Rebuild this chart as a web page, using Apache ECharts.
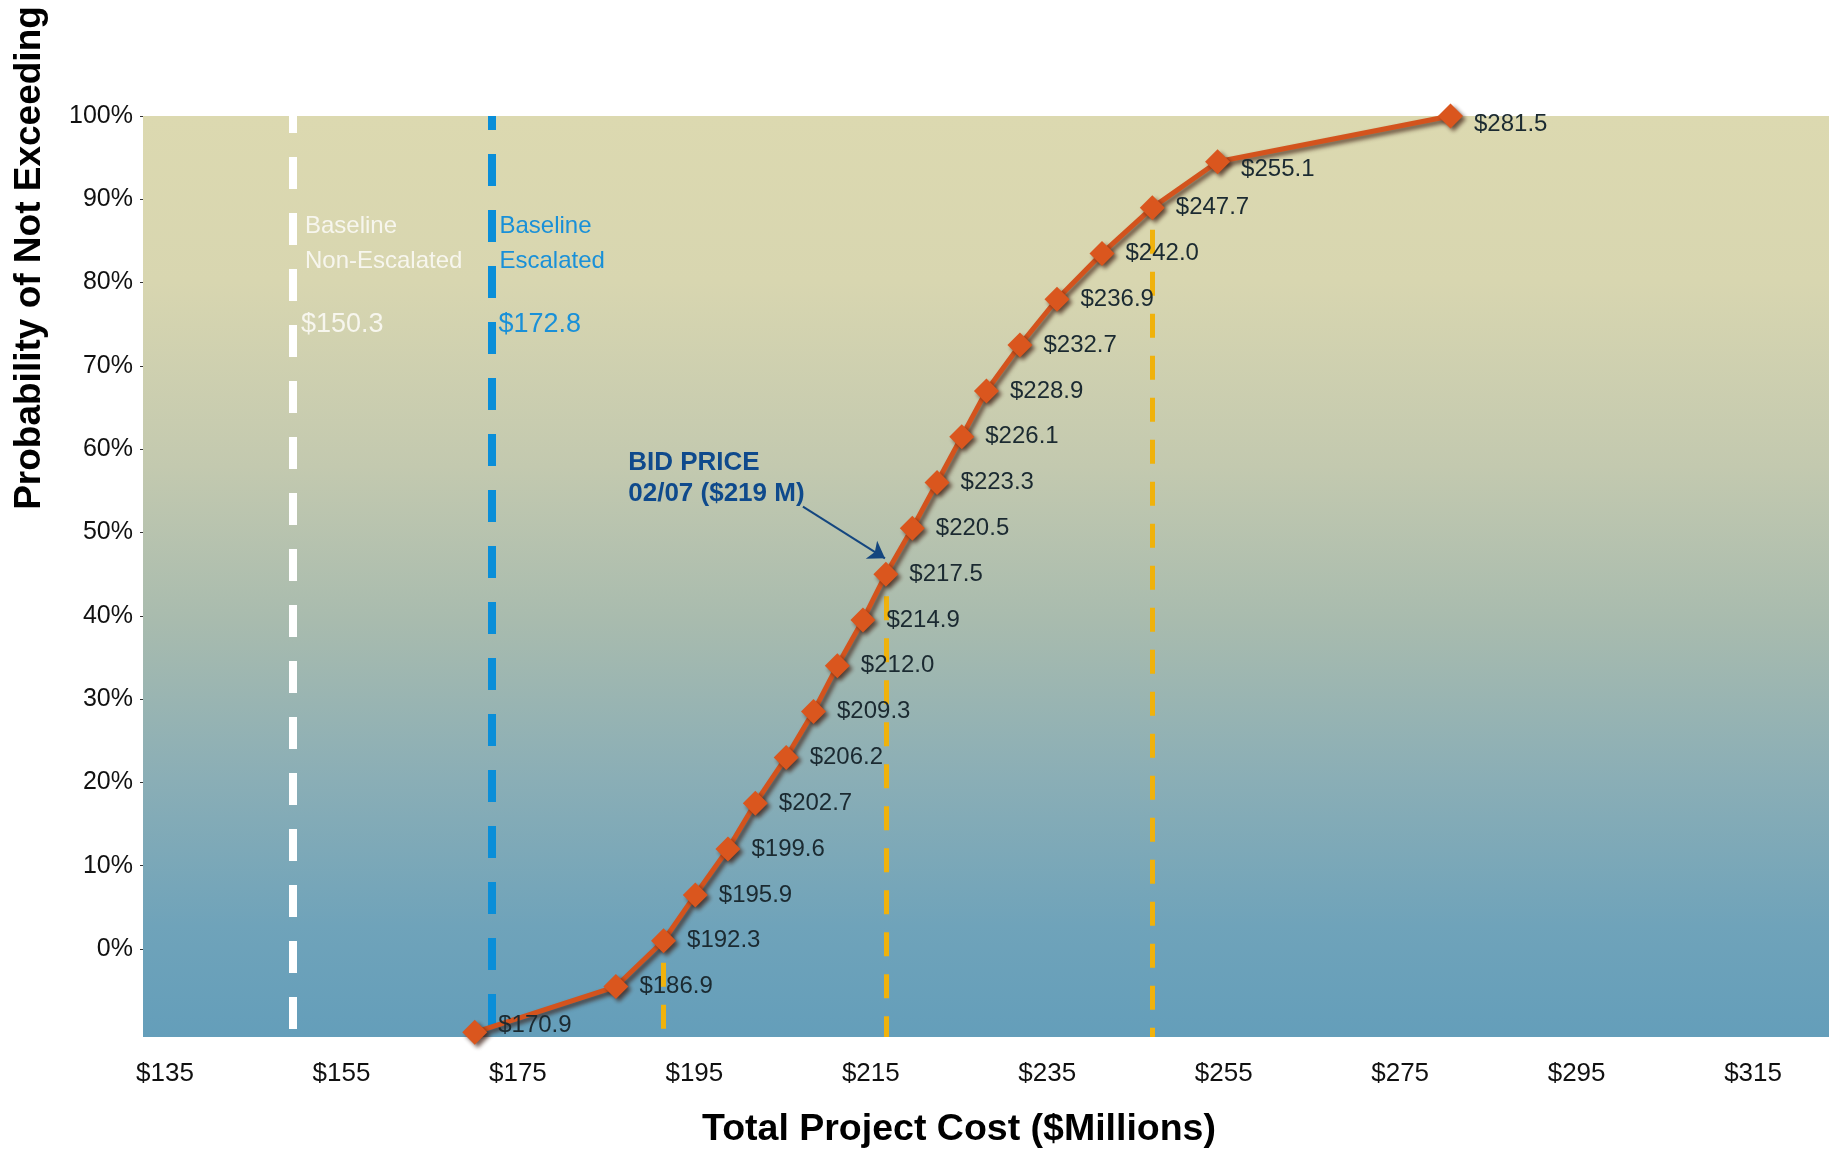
<!DOCTYPE html>
<html>
<head>
<meta charset="utf-8">
<title>Total Project Cost – Probability of Not Exceeding</title>
<script src="https://cdn.jsdelivr.net/npm/echarts@6/dist/echarts.min.js"></script>
<style>
  html, body { margin: 0; padding: 0; background: #ffffff; }
  #chart { width: 1833px; height: 1152px; }
</style>
</head>
<body>
<div id="chart"></div>
<script>
// Cumulative cost distribution: total project cost ($M) vs probability of not exceeding (%)
const costs = [170.9, 186.9, 192.3, 195.9, 199.6, 202.7, 206.2, 209.3, 212.0, 214.9, 217.5,
               220.5, 223.3, 226.1, 228.9, 232.7, 236.9, 242.0, 247.7, 255.1, 281.5];
const probs = [-10, -4.5, 1, 6.5, 12, 17.5, 23, 28.5, 34, 39.5, 45,
               50.5, 56, 61.5, 67, 72.5, 78, 83.5, 89, 94.5, 100];

// Axis tick labels
const xTicks = [135, 155, 175, 195, 215, 235, 255, 275, 295, 315];
const yTicks = [0, 10, 20, 30, 40, 50, 60, 70, 80, 90, 100];

// Baseline estimates ($M)
const baselineNonEscalated = 150.3;
const baselineEscalated = 172.8;

// Gold guide lines dropped from selected points of the curve
const guideCosts = [192.3, 217.5, 247.7];
const guideProbs = [1, 45, 89];

// Bid price callout
const bidTitle = 'BID PRICE';
const bidSubtitle = '02/07 ($219 M)';

const X_MIN = 133.3, X_MAX = 324.4;
const Y_MIN = -10.56, Y_MAX = 100;

function hasFont(name) {
  const ctx = document.createElement('canvas').getContext('2d');
  const s = 'Baseline Non-Escalated $150.3 mmmiiwW';
  ctx.font = '40px monospace';
  const a = ctx.measureText(s).width;
  ctx.font = '40px "' + name + '", monospace';
  const b = ctx.measureText(s).width;
  return Math.abs(a - b) > 0.5;
}
const narrow = hasFont('Liberation Sans Narrow');
const SANS = '"Liberation Sans", Arial, Helvetica, sans-serif';
const NOTE_FONT = narrow ? '"Liberation Sans Narrow", "Liberation Sans", sans-serif' : SANS;
const NOTE_SIZE = narrow ? 28 : 24;
const NOTE_VALUE_SIZE = narrow ? 31 : 27;

const chart = echarts.init(document.getElementById('chart'), null, { renderer: 'canvas' });

// Point labels sit to the right; the end points nudge theirs a little
const curve = costs.map((c, i) => {
  const item = { value: [c, probs[i]] };
  if (i === 0) item.label = { offset: [0, -7] };
  if (i >= costs.length - 2) item.label = { offset: [0, 8] };
  return item;
});

const shadow = {
  shadowColor: 'rgba(55, 22, 12, 0.7)',
  shadowBlur: 4,
  shadowOffsetX: 3,
  shadowOffsetY: 3
};

function vLine(x, yTop, yBottom, style) {
  return [
    { coord: [x, yTop], lineStyle: style },
    { coord: [x, yBottom] }
  ];
}

const guideStyle = { color: '#f0b20c', width: 5, type: [24, 18], dashOffset: 20 };

const option = {
  animation: false,
  backgroundColor: '#ffffff',
  textStyle: { fontFamily: SANS },
  grid: {
    left: 143, right: 4, top: 116, bottom: 115,
    show: true,
    borderWidth: 0,
    outerBoundsMode: 'none',
    backgroundColor: {
      type: 'linear', x: 0, y: 0, x2: 0, y2: 1,
      colorStops: [
        { offset: 0, color: '#dcd9b0' },
        { offset: 0.18, color: '#d8d6b0' },
        { offset: 0.38, color: '#c3c9af' },
        { offset: 0.55, color: '#a8bbae' },
        { offset: 0.72, color: '#8aaeb6' },
        { offset: 0.88, color: '#6fa3ba' },
        { offset: 1, color: '#649eba' }
      ]
    }
  },
  xAxis: {
    type: 'value',
    min: X_MIN,
    max: X_MAX,
    axisLine: { show: false },
    axisTick: { show: false },
    splitLine: { show: false },
    axisLabel: {
      customValues: xTicks,
      formatter: v => '$' + v,
      fontSize: 26,
      color: '#111111',
      margin: 24,
      padding: [0, 0, 0, 14],
      fontFamily: SANS
    }
  },
  yAxis: {
    type: 'value',
    min: Y_MIN,
    max: Y_MAX,
    axisLine: { show: false },
    axisTick: {
      show: true,
      customValues: yTicks,
      length: 3,
      lineStyle: { color: '#333333', width: 1 }
    },
    splitLine: { show: false },
    axisLabel: {
      customValues: yTicks,
      formatter: v => v + '%',
      fontSize: 25,
      color: '#111111',
      margin: 10,
      fontFamily: SANS
    }
  },
  series: [
    {
      // Reference lines under the curve
      type: 'line',
      data: curve.map(d => d.value),
      showSymbol: false,
      silent: true,
      lineStyle: { width: 0, opacity: 0 },
      z: 1,
      markLine: {
        silent: true,
        symbol: ['none', 'none'],
        label: { show: false },
        animation: false,
        data: [
          vLine(baselineNonEscalated, Y_MAX, Y_MIN,
                { color: '#ffffff', width: 8, type: [32, 24], dashOffset: 15 }),
          vLine(baselineEscalated, Y_MAX, Y_MIN,
                { color: '#0a8ed8', width: 8, type: [32, 24], dashOffset: 18 }),
          ...guideCosts.map((c, i) => vLine(c, guideProbs[i], Y_MIN, guideStyle))
        ]
      }
    },
    {
      // Bid price arrow
      type: 'line',
      data: [],
      silent: true,
      z: 6,
      markLine: {
        silent: true,
        symbol: ['none', 'arrow'],
        symbolSize: 16,
        label: { show: false },
        data: [[
          { coord: [208.1, 53.1], lineStyle: { color: '#14467f', width: 2, type: 'solid' } },
          { coord: [217.4, 46.9] }
        ]]
      }
    },
    {
      // Cumulative cost curve
      type: 'line',
      data: curve,
      z: 5,
      symbol: 'diamond',
      symbolSize: 25,
      lineStyle: Object.assign({ color: '#d3531d', width: 5 }, shadow),
      itemStyle: Object.assign({ color: '#da561e' }, shadow),
      label: {
        show: true,
        position: 'right',
        distance: 11,
        formatter: p => '$' + p.value[0].toFixed(1),
        fontSize: 24,
        color: '#1b2a31',
        fontFamily: SANS
      }
    }
  ]
};

chart.setOption(option);

// Annotation texts positioned in data space
function px(x, y) { return chart.convertToPixel({ gridIndex: 0 }, [x, y]); }

function note(text, x, y, opts) {
  const p = px(x, y);
  return {
    type: 'text',
    x: p[0] + (opts.dx || 0),
    y: p[1],
    z: 10,
    silent: true,
    style: {
      text: text,
      fill: opts.color,
      fontSize: opts.size,
      fontFamily: opts.family,
      fontWeight: opts.weight || 'normal',
      align: 'left',
      verticalAlign: 'middle'
    }
  };
}

const whiteNote = { color: '#f7f6ee', family: NOTE_FONT, size: NOTE_SIZE, dx: 12 };
const whiteValue = { color: '#f7f6ee', family: NOTE_FONT, size: NOTE_VALUE_SIZE, dx: 8 };
const blueNote = { color: '#1990d8', family: NOTE_FONT, size: NOTE_SIZE, dx: 8 };
const blueValue = { color: '#1990d8', family: NOTE_FONT, size: NOTE_VALUE_SIZE, dx: 7 };
const bidNote = { color: '#0f4a8c', family: SANS, size: 26, weight: 'bold' };

chart.setOption({
  graphic: [
    note('Baseline', baselineNonEscalated, 86.7, whiteNote),
    note('Non-Escalated', baselineNonEscalated, 82.5, whiteNote),
    note('$' + baselineNonEscalated.toFixed(1), baselineNonEscalated, 75.0, whiteValue),
    note('Baseline', baselineEscalated, 86.7, blueNote),
    note('Escalated', baselineEscalated, 82.5, blueNote),
    note('$' + baselineEscalated.toFixed(1), baselineEscalated, 75.0, blueValue),
    note(bidTitle, 188.3, 58.4, bidNote),
    note(bidSubtitle, 188.3, 54.7, bidNote),
    {
      type: 'text',
      x: 959, y: 1130,
      silent: true,
      style: {
        text: 'Total Project Cost ($Millions)',
        fill: '#000000',
        fontSize: 37.5,
        fontWeight: 'bold',
        fontFamily: SANS,
        align: 'center',
        verticalAlign: 'middle'
      }
    },
    {
      type: 'text',
      x: 30, y: 258,
      rotation: Math.PI / 2,
      silent: true,
      style: {
        text: 'Probability of Not Exceeding',
        fill: '#000000',
        fontSize: 37,
        fontWeight: 'bold',
        fontFamily: SANS,
        align: 'center',
        verticalAlign: 'middle'
      }
    }
  ]
});
</script>
</body>
</html>
